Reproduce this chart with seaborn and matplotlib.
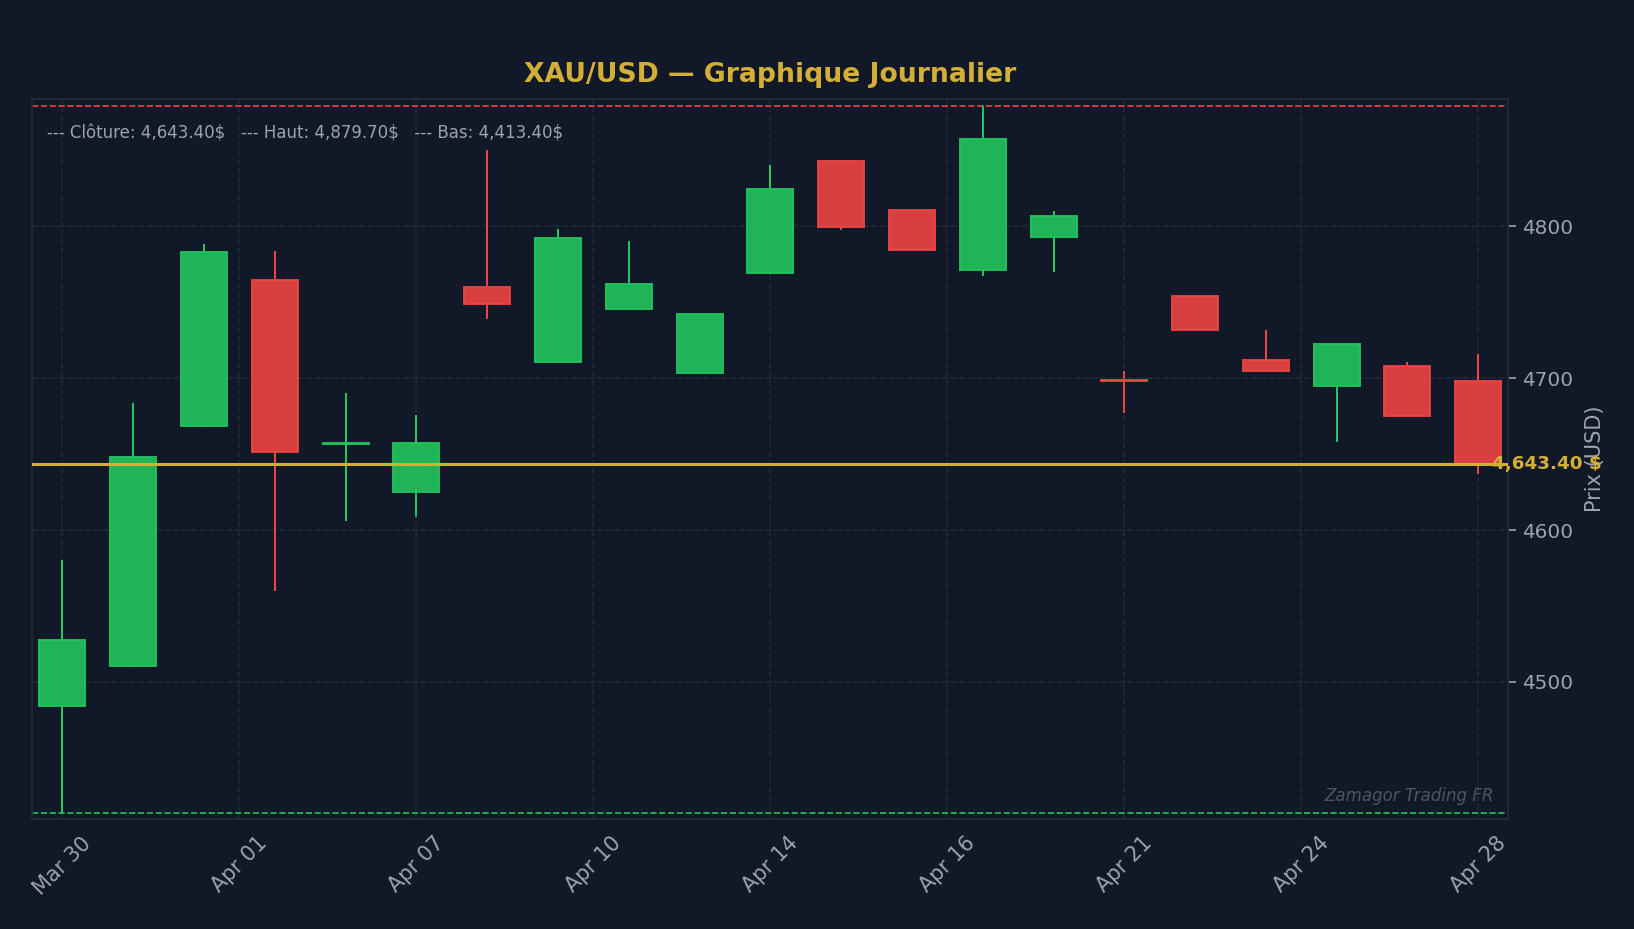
import matplotlib
matplotlib.use("Agg")
import matplotlib.pyplot as plt
import numpy as np
import seaborn as sns
from matplotlib.ticker import FuncFormatter, MultipleLocator

# Daily candles
dates = ["Mar 30", "Mar 31", "Apr 01", "Apr 02", "Apr 06", "Apr 07", "Apr 08",
         "Apr 09", "Apr 10", "Apr 13", "Apr 14", "Apr 15", "Apr 16", "Apr 17",
         "Apr 20", "Apr 21", "Apr 22", "Apr 23", "Apr 24", "Apr 27", "Apr 28"]
opens = [4483.8, 4510.5, 4668.4, 4764.7, 4656.5, 4625.0, 4760.1, 4710.8, 4745.7,
         4703.6, 4769.3, 4843.0, 4810.8, 4771.3, 4793.0, 4699.0, 4754.2, 4712.1,
         4695.0, 4708.2, 4698.5]
highs = [4580.1, 4684.0, 4788.6, 4784.0, 4690.0, 4676.1, 4850.5, 4798.5, 4790.6,
         4742.6, 4840.6, 4843.2, 4811.0, 4879.7, 4810.3, 4705.1, 4754.4, 4732.0,
         4722.8, 4711.0, 4716.2]
lows = [4413.4, 4509.8, 4668.0, 4559.9, 4605.9, 4608.6, 4738.8, 4710.5, 4744.7,
        4703.4, 4769.0, 4798.0, 4784.3, 4767.1, 4769.7, 4677.0, 4731.6, 4704.8,
        4657.9, 4675.1, 4636.8]
closes = [4527.4, 4648.3, 4783.2, 4651.6, 4657.2, 4657.5, 4748.9, 4792.4, 4762.1,
          4742.4, 4824.6, 4799.6, 4784.5, 4857.5, 4806.8, 4698.5, 4731.8, 4704.9,
          4722.6, 4675.3, 4643.4]

BG = "#111827"
GRID = "#1f2937"
TXT = "#9ca3af"
UP = "#22c55e"
DOWN = "#ef4444"
GOLD = "#d4af37"

sns.set_theme(style="dark", rc={
    "figure.facecolor": BG,
    "axes.facecolor": BG,
    "axes.edgecolor": GRID,
    "grid.color": GRID,
    "text.color": TXT,
    "xtick.color": TXT,
    "ytick.color": TXT,
})
plt.rcParams["font.family"] = ["DejaVu Sans"]

fig, ax = plt.subplots(figsize=(1634 / 120, 929 / 120), dpi=120)
fig.subplots_adjust(left=32 / 1634, right=1508 / 1634, top=1 - 99 / 929, bottom=1 - 819 / 929)

x = np.arange(len(dates))
o = np.array(opens)
c = np.array(closes)
body_top = np.maximum(o, c)
body_bot = np.minimum(o, c)
colors = [UP if cc >= oo else DOWN for oo, cc in zip(o, c)]

# wicks above and below the body, then the bodies
ax.vlines(x, body_top, highs, colors=colors, linewidth=1.2, zorder=2)
ax.vlines(x, lows, body_bot, colors=colors, linewidth=1.2, zorder=2)
ax.bar(x, body_top - body_bot, bottom=body_bot, width=0.65, color=colors,
       alpha=0.9, edgecolor=colors, linewidth=1.2, zorder=3)

hi, lo, last = max(highs), min(lows), closes[-1]
ax.axhline(hi, color=DOWN, linestyle="--", linewidth=1, zorder=1)
ax.axhline(lo, color=UP, linestyle="--", linewidth=1, zorder=1)
ax.axhline(last, color=GOLD, linewidth=1.8, zorder=4)

ax.text(len(dates) - 0.8, last, f"{last:,.2f} $", color=GOLD, fontsize=11,
        fontweight="bold", ha="left", va="center", zorder=5, clip_on=False)

ax.text(0.01, 0.965,
        f"--- Clôture: {last:,.2f}$   --- Haut: {hi:,.2f}$   --- Bas: {lo:,.2f}$",
        transform=ax.transAxes, ha="left", va="top", fontsize=10, color=TXT)
ax.text(0.99, 0.02, "Zamagor Trading FR", transform=ax.transAxes, ha="right",
        va="bottom", fontsize=10, style="italic", color="#4b5563")

pad = (hi - lo) * 0.008
ax.set_ylim(lo - pad, hi + pad * 1.15)
ax.set_xlim(-0.43, len(dates) - 1 + 0.42)

ax.xaxis.set_major_locator(MultipleLocator(2.5))
ax.xaxis.set_major_formatter(FuncFormatter(
    lambda v, p: dates[int(round(v))] if 0 <= round(v) < len(dates) else ""))
ax.yaxis.set_major_locator(MultipleLocator(100))
ax.yaxis.tick_right()
ax.yaxis.set_label_position("right")
ax.tick_params(axis="x", labelsize=12.5, labelrotation=45, length=5, width=1)
ax.tick_params(axis="y", labelsize=12, length=5, width=1)
ax.set_ylabel("Prix (USD)", fontsize=12.5, color=TXT, labelpad=7)

ax.grid(True, color=GRID, linestyle="--", linewidth=1)
for spine in ax.spines.values():
    spine.set_edgecolor(GRID)
    spine.set_linewidth(1.2)

ax.set_title("XAU/USD — Graphique Journalier", fontsize=16, fontweight="bold",
             color=GOLD, pad=10)

fig.savefig("out.png", dpi=120, facecolor=BG)
